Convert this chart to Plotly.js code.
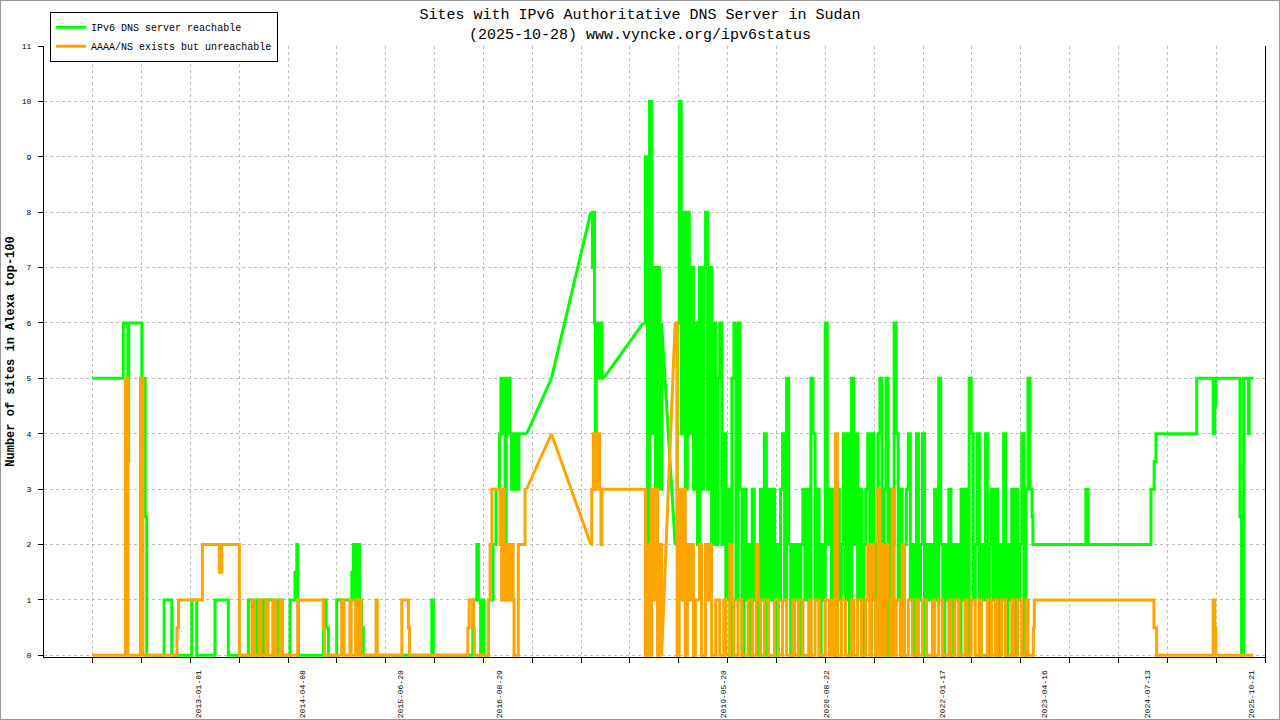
<!DOCTYPE html>
<html>
<head>
<meta charset="utf-8">
<script src="https://cdn.plot.ly/plotly-3.0.1.min.js"></script>
<style>
html,body{margin:0;padding:0;background:#fff;}
#chart{width:1280px;height:720px;}
#frame{position:absolute;left:0;top:0;width:1280px;height:720px;box-sizing:border-box;border:1px solid #9a9a9a;pointer-events:none;}
</style>
</head>
<body>
<div id="chart"></div>
<div id="frame"></div>
<script>
// ---------------- DATA ----------------
const seriesNames = ['IPv6 DNS server reachable', 'AAAA/NS exists but unreachable'];
const tickLabels = ['2013-01-01','2014-04-08','2015-06-20','2016-08-29','2019-05-20','2020-08-22','2022-01-17','2023-04-16','2024-07-13','2025-10-21'];

// Period A: 2011-09 .. 2016-12 (change points)
const reachA_dates = ['2011-09-20','2012-02-04','2012-02-24','2012-02-28','2012-04-26','2012-05-11','2012-05-18','2012-08-03','2012-09-06','2012-12-04','2012-12-26','2013-03-17','2013-05-15','2013-08-12','2013-09-03','2013-09-18','2013-10-12','2013-10-20','2013-12-01','2013-12-22','2014-01-08','2014-02-13','2014-03-07','2014-03-15','2014-03-18','2014-03-22','2014-07-11','2014-07-23','2014-08-02','2014-09-08','2014-11-14','2014-11-21','2014-11-28','2014-12-05','2014-12-18','2014-12-28','2015-01-04','2015-11-04','2015-11-11','2016-05-04','2016-05-22','2016-05-29','2016-06-08','2016-06-17','2016-06-23','2016-07-12','2016-08-02','2016-08-15','2016-08-30','2016-09-06','2016-09-13','2016-09-17','2016-09-24','2016-09-29','2016-10-05','2016-10-10','2016-10-16','2016-10-23','2016-10-30','2016-11-05','2016-11-12','2016-11-19','2016-11-25','2016-12-29'];
const reachA_values = [5,6,3.5,6,5,2.5,0,1,0,1,0,1,0,1,0,1,0,1,0,1,0,1,1.5,2,1,0,1,0.5,0,1,1.5,2,1,2,1,0.5,0,1,0,1,2,1,0,1,0,1,2,3,4,5,4,5,1,5,4,5,4,3,4,3,4,3,4,4];

const unreachA_dates = ['2011-09-20','2012-02-13','2012-02-25','2012-04-20','2012-05-01','2012-09-29','2012-10-06','2013-01-20','2013-04-05','2013-04-16','2013-07-03','2013-08-28','2013-09-06','2013-09-28','2013-10-07','2013-10-29','2013-11-07','2013-11-29','2013-12-13','2013-12-31','2014-01-11','2014-03-19','2014-07-11','2014-07-16','2014-09-30','2014-10-11','2014-11-06','2014-11-11','2014-12-01','2014-12-10','2014-12-21','2014-12-25','2015-03-02','2015-03-07','2015-06-24','2015-07-23','2015-07-28','2016-04-12','2016-04-18','2016-05-07','2016-05-11','2016-07-12','2016-07-20','2016-07-28','2016-09-02','2016-09-09','2016-09-15','2016-09-20','2016-09-26','2016-10-03','2016-10-10','2016-10-16','2016-10-23','2016-10-30','2016-11-03','2016-11-22','2016-12-22','2016-12-29'];
const unreachA_values = [0,5,0,5,0,0.5,1,2,1.5,2,0,1,0,1,0,1,0,1,0,1,0,1,0.5,0,1,0,1,0,1,0,1,0,1,0,1,0.5,0,0.5,1,0.5,0,1,2,3,2,1,3,1,2,1,2,1,2,1,0,2,3,3];

// Period B: isolated 2017 survey
const midDates = ['2017-04-18'];
const reachMid = [5];
const unreachMid = [4];

// Period C: autumn 2017
const reachC_dates = ['2017-10-10','2017-10-17','2017-10-21','2017-10-26','2017-10-30','2017-11-03','2017-11-07','2017-11-12','2017-11-18','2017-11-23','2017-11-28','2017-12-05'];
const reachC_values = [8,7,8,6,4,6,5,6,5,6,5,5];
const unreachC_dates = ['2017-10-10','2017-10-14','2017-10-21','2017-10-26','2017-10-31','2017-11-06','2017-11-11','2017-11-18','2017-11-24','2017-11-28','2017-12-05'];
const unreachC_values = [2,3,4,3,4,3,4,3,2,3,3];

// Period D: summer 2018, sampled every 9 days
const periodD_start = '2018-05-31';
const periodD_stepDays = 9;
const reachD = [6,9,2,10,4,7,2,7,3,6];
const unreachD = [3,0,2,0,3,1,3,0,2,0];

// Period E: 2018-10 .. 2023-02, sampled every 9 days
const periodE_start = '2018-10-19';
const periodE_stepDays = 9;
const reachE = [
 2,6,10,4,8,3,8,4,7,3,
 6,2,7,3,7,8,3,7,2,6,
 2,5,6,2,4,1,3,0,5,6,
 1,6,3,0,3,1,2,0,3,1,
 2,0,3,1,4,0,3,1,3,0,
 2,1,3,4,1,5,2,0,2,1,
 2,0,2,3,1,3,0,5,4,1,
 3,0,2,1,6,2,3,1,3,0,
 3,1,2,4,1,4,0,5,2,4,
 1,3,0,2,3,4,1,4,2,0,
 4,5,1,3,5,0,3,2,6,4,
 1,3,0,2,3,4,1,2,0,4,
 1,2,4,0,2,1,2,0,3,1,
 5,2,0,2,1,3,0,2,1,2,
 0,3,1,3,0,5,4,1,2,4,
 0,2,1,4,0,2,3,1,3,0,
 2,1,4,0,2,1,3,0,3,1,
 2,4,0,3,5,3,2.5];
const unreachE = [
 6,0,3,1,3,0,2,1,2,0,
 1,1,2,0,0,2,1,2,0,0,
 1,1,0,0,1,0,0,2,1,0,
 0,1,1,0,0,0,1,1,0,0,
 2,1,0,0,1,1,0,0,0,1,
 1,0,0,1,1,0,0,0,1,0,
 0,1,1,0,0,0,1,0,0,1,
 1,0,0,0,1,1,0,1,0,4,
 0,0,1,1,0,0,0,1,0,0,
 1,1,0,0,1,2,0,2,1,0,
 3,0,2,0,2,1,0,3,0,1,
 1,0,2,0,0,1,1,0,0,1,
 0,0,1,1,0,0,0,1,0,0,
 1,1,0,0,0,1,0,0,1,1,
 0,0,0,1,0,0,1,1,0,0,
 1,0,0,0,1,1,0,0,1,0,
 0,1,1,0,0,0,1,0,0,1,
 1,0,0,1,0,0,0];

// Period F: 2023-02 .. 2025-10 (change points)
const reachF_dates = ['2023-02-23','2023-10-16','2023-10-26','2024-07-31','2024-08-14','2024-08-22','2025-02-19','2025-05-03','2025-05-10','2025-05-15','2025-08-30','2025-09-06','2025-09-15','2025-10-07','2025-10-10','2025-10-28'];
const reachF_values = [2,3,2,3,3.5,4,5,4,4.5,5,2.5,0,5,4,5,5];
const unreachF_dates = ['2023-02-25','2023-03-01','2024-08-13','2024-08-25','2025-05-03','2025-05-10','2025-05-15','2025-10-28'];
const unreachF_values = [0.5,1,0.5,0,1,0.5,0,0];

// ---------------- BUILD ----------------
function addDays(s, n) {
  const t = Date.parse(s + 'T00:00:00Z') + n * 86400000;
  return new Date(t).toISOString().slice(0, 10);
}
function sampled(start, step, vals) {
  return vals.map((_, i) => addDays(start, i * step));
}
function segmentsFor(aD, aV, midV, cD, cV, dV, eV, fD, fV) {
  return [
    {x: aD, y: aV},
    {x: midDates, y: midV},
    {x: cD, y: cV},
    {x: sampled(periodD_start, periodD_stepDays, dV), y: dV},
    {x: sampled(periodE_start, periodE_stepDays, eV).concat(fD), y: eV.concat(fV)}
  ];
}
function stepXY(segs) {
  const x = [], y = [];
  segs.forEach((s, k) => {
    if (k) { x.push(null); y.push(null); }
    x.push(...s.x); y.push(...s.y);
  });
  return {x, y};
}
function bridgeXY(segs) {
  const x = [], y = [];
  for (let k = 0; k < segs.length - 1; k++) {
    const a = segs[k], b = segs[k + 1];
    x.push(a.x[a.x.length - 1], b.x[0], null);
    y.push(a.y[a.y.length - 1], b.y[0], null);
  }
  return {x, y};
}

const reachSegs = segmentsFor(reachA_dates, reachA_values, reachMid, reachC_dates, reachC_values, reachD, reachE, reachF_dates, reachF_values);
const unreachSegs = segmentsFor(unreachA_dates, unreachA_values, unreachMid, unreachC_dates, unreachC_values, unreachD, unreachE, unreachF_dates, unreachF_values);

const GREEN = '#00ff00', ORANGE = '#ffa500', LW = 3;
function makeTraces(segs, name, color, grp) {
  const s = stepXY(segs), b = bridgeXY(segs);
  return [
    {type: 'scatter', mode: 'lines', name: name, legendgroup: grp, x: s.x, y: s.y,
     line: {color: color, width: LW, shape: 'hv'}, connectgaps: false, hoverinfo: 'x+y'},
    {type: 'scatter', mode: 'lines', name: name, legendgroup: grp, showlegend: false, x: b.x, y: b.y,
     line: {color: color, width: LW, shape: 'linear'}, connectgaps: false, hoverinfo: 'x+y'}
  ];
}
const traces = makeTraces(reachSegs, seriesNames[0], GREEN, 'g').concat(makeTraces(unreachSegs, seriesNames[1], ORANGE, 'o'));

const FONT = '"Liberation Mono", "DejaVu Sans Mono", monospace';
const GRID_STEP_MS = 216.8 * 86400000;

const layout = {
  width: 1280, height: 720,
  margin: {l: 44, r: 15, t: 44, b: 63, pad: 0},
  paper_bgcolor: '#ffffff', plot_bgcolor: '#ffffff',
  font: {family: FONT, size: 8, color: '#000'},
  title: {
    text: 'Sites with IPv6 Authoritative DNS Server in Sudan<br>(2025-10-28) www.vyncke.org/ipv6status',
    x: 0.5, xref: 'container', xanchor: 'center',
    y: 0.973, yref: 'container', yanchor: 'top',
    font: {family: FONT, size: 15, color: '#000'}
  },
  showlegend: true,
  legend: {
    x: 0.005, xanchor: 'left', y: 1.056, yanchor: 'top',
    bgcolor: '#ffffff', bordercolor: '#000', borderwidth: 1,
    font: {family: FONT, size: 10, color: '#000'},
    itemwidth: 30, tracegroupgap: 0
  },
  xaxis: {
    type: 'date',
    range: ['2011-02-17', '2025-12-19'],
    showline: true, linecolor: '#000', linewidth: 1,
    zeroline: false,
    tickmode: 'array', tickvals: tickLabels, ticktext: tickLabels,
    tickangle: -90, ticks: '', showgrid: false,
    tickfont: {family: FONT, size: 8, color: '#000'},
    ticklabelstandoff: 9,
    minor: {
      tickmode: 'linear', tick0: '2011-09-20 19:00', dtick: GRID_STEP_MS,
      ticks: 'outside', ticklen: 5, tickcolor: '#000', tickwidth: 1,
      showgrid: true, gridcolor: '#c0c0c0', griddash: 'dot', gridwidth: 1
    }
  },
  yaxis: {
    range: [-0.03, 11],
    tickmode: 'linear', tick0: 0, dtick: 1,
    ticks: 'outside', ticklen: 5, tickcolor: '#000',
    showline: true, mirror: true, linecolor: '#000', linewidth: 1,
    showgrid: true, gridcolor: '#c0c0c0', griddash: 'dot', gridwidth: 1,
    zeroline: false,
    tickfont: {family: FONT, size: 8, color: '#000'},
    ticklabelstandoff: 5,
    title: {text: '<b>Number of sites in Alexa top-100</b>', font: {family: FONT, size: 12, color: '#000'}, standoff: 4}
  }
};

Plotly.newPlot('chart', traces, layout, {displayModeBar: false, staticPlot: true});
</script>
</body>
</html>
